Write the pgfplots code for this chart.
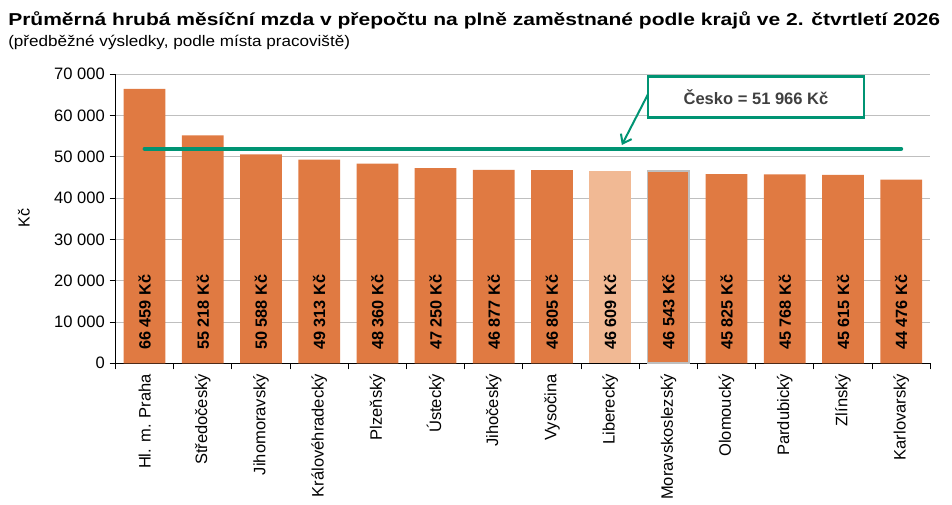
\documentclass[border=0pt]{standalone}
\usepackage{fontspec}
\setmainfont{Liberation Sans}
\newfontfamily\titlefont[FakeStretch=1.222]{Liberation Sans}
\newfontfamily\subfont[FakeStretch=1.115]{Liberation Sans}
\usepackage{pgfplots}
\pgfplotsset{compat=1.18}
\usetikzlibrary{arrows.meta}
\definecolor{barc}{HTML}{E07A42}
\definecolor{barl}{HTML}{F1B994}
\definecolor{cz}{HTML}{009473}
\definecolor{gridc}{HTML}{BFBFBF}
\definecolor{dtext}{HTML}{404040}
\begin{document}
\begin{tikzpicture}[x=1pt,y=1pt]
\useasboundingbox (0pt,0pt) rectangle (714pt,378.75pt);
\node[anchor=base west, font=\titlefont\bfseries\fontsize{12.9}{15}\selectfont, inner sep=0] at (6pt,359.25pt) {Průměrná hrubá měsíční mzda v přepočtu na plně zaměstnané podle krajů ve 2. čtvrtletí 2026};
\node[anchor=base west, font=\subfont\fontsize{11.5}{13}\selectfont, inner sep=0] at (6pt,343.5pt) {(předběžné výsledky, podle místa pracoviště)};
\node[rotate=90, font=\fontsize{12}{14}\selectfont, inner sep=0] at (18pt,215.25pt) {Kč};
\begin{axis}[
  at={(86.625pt,106.275pt)}, anchor=south west,
  scale only axis, width=611.1pt, height=216.75pt,
  xmin=-0.5, xmax=13.5, ymin=0, ymax=70000,
  axis lines=left, axis line style={-, black, line width=0.75pt},
  ymajorgrids, grid style={gridc, line width=0.75pt},
  scaled y ticks=false,
  ytick={0,10000,20000,30000,40000,50000,60000,70000},
  yticklabels={0,10 000,20 000,30 000,40 000,50 000,60 000,70 000},
  xtick={-0.5,0.5,...,13.5},
  x tick label as interval,
  xticklabels={Hl. m. Praha,Středočeský,Jihomoravský,Královéhradecký,Plzeňský,Ústecký,Jihočeský,Vysočina,Liberecký,Moravskoslezský,Olomoucký,Pardubický,Zlínský,Karlovarský},
  tick align=outside, major tick length=4.5pt,
  tick style={black, line width=0.75pt},
  ticklabel style={font=\fontsize{12.4}{14}\selectfont, text=black},
  /pgf/number format/assume math mode=true,
  xticklabel style={rotate=90, anchor=east},
  yticklabel style={anchor=east},
  ybar, bar width=31.3pt,
  visualization depends on=rawy \as \ry,
  nodes near coords={\pgfmathprintnumber[fixed,precision=0,1000 sep={\ }]{\pgfplotspointmeta}\ Kč},
  every node near coord/.style={shift={(axis direction cs:0,-\ry)}, yshift=10pt, rotate=90, anchor=west, inner sep=0pt, font=\bfseries\fontsize{12.2}{14}\selectfont, text=black},
  clip=false,
]
\addplot[fill=barc, draw=none, bar shift=0pt] coordinates {
 (0,66459) (1,55218) (2,50588) (3,49313) (4,48360) (5,47250) (6,46877) (7,46805) (10,45825) (11,45768) (12,45615) (13,44476)};
\addplot[fill=barl, draw=none, bar shift=0pt] coordinates {(8,46609)};
\addplot[fill=barc, draw=gridc, line width=1.2pt, bar shift=0pt] coordinates {(9,46543)};
\addplot[sharp plot, no marks, nodes near coords={}, draw=cz, line width=3pt, line cap=round] coordinates {(0,51966) (13,51966)};
\draw[cz, line width=1.5pt, -{Straight Barb[length=6pt,width=9pt]}] (axis cs:8.66,65470) -- (axis cs:8.20,52880);
\node[draw=cz, line width=1.8pt, fill=white, minimum width=162pt, minimum height=30.75pt, inner sep=0pt, font=\bfseries\fontsize{12.4}{14}\selectfont, text=dtext] at (axis cs:10.505,64455) {Česko = 51 966 Kč};
\end{axis}
\end{tikzpicture}
\end{document}
